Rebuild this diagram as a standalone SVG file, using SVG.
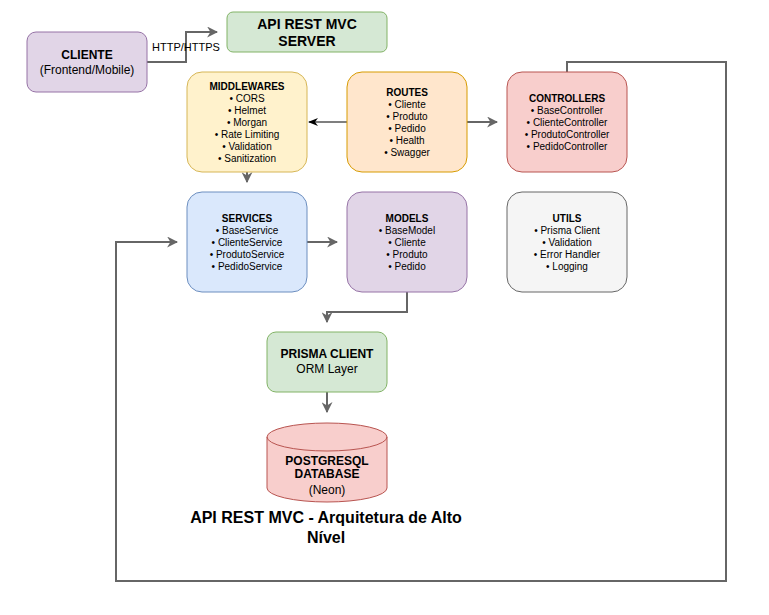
<svg xmlns="http://www.w3.org/2000/svg" width="769" height="615" viewBox="0 0 769 615">
<defs>
<marker id="ag" viewBox="0 0 10 10" refX="9" refY="5" markerWidth="6" markerHeight="6" orient="auto" markerUnits="userSpaceOnUse">
<path d="M0,0 L10,5 L0,10 L3,5 z" fill="#666666"/>
</marker>
<marker id="ab" viewBox="0 0 10 10" refX="9" refY="5" markerWidth="10" markerHeight="10" orient="auto" markerUnits="userSpaceOnUse">
<path d="M0,1 L10,5 L0,9 L3,5 z" fill="#000000"/>
</marker>
<marker id="ag2" viewBox="0 0 10 10" refX="9" refY="5" markerWidth="11" markerHeight="11" orient="auto" markerUnits="userSpaceOnUse">
<path d="M0,0 L10,5 L0,10 L3,5 z" fill="#666666"/>
</marker>
</defs>
<style>
text{font-family:"Liberation Sans",Arial,sans-serif;text-anchor:middle;fill:#000}
.t{font-size:10px;font-weight:bold}
.i{font-size:10px}
.b12{font-size:12px;font-weight:bold}
.r12{font-size:12px}
.c{fill:none;stroke:#666666;stroke-width:2}
</style>
<g id="connectors">
<path class="c" d="M147,62 H186 V32 H217" marker-end="url(#ag2)"/>
<text x="186" y="51" style="font-size:11px">HTTP/HTTPS</text>
<path d="M347,122 H309" fill="none" stroke="#000" stroke-width="1.2" marker-end="url(#ab)"/>
<path class="c" d="M467,122 H497" marker-end="url(#ag2)"/>
<path class="c" d="M247,172 V182" marker-end="url(#ag2)"/>
<path class="c" d="M307,242 H337" marker-end="url(#ag2)"/>
<path class="c" d="M407,292 V312 H327 V322" marker-end="url(#ag2)"/>
<path class="c" d="M327,392 V412" marker-end="url(#ag2)"/>
<path class="c" d="M567,72 V62 H726 V581 H116 V242 H177" marker-end="url(#ag2)"/>
</g>
<g id="cliente">
<rect x="27" y="32" width="120" height="60" rx="9" fill="#e1d5e7" stroke="#9673a6"/>
<text class="b12" x="87" y="59">CLIENTE</text>
<text class="r12" x="87" y="74">(Frontend/Mobile)</text>
</g>
<g id="server">
<rect x="227" y="12" width="160" height="40" rx="6" fill="#d5e8d4" stroke="#82b366"/>
<text x="307" y="29" style="font-size:14px;font-weight:bold">API REST MVC</text>
<text x="307" y="46" style="font-size:14px;font-weight:bold">SERVER</text>
</g>
<g id="middlewares">
<rect x="187" y="72" width="120" height="100" rx="15" fill="#fff2cc" stroke="#d6b656"/>
<text class="t" x="247" y="90">MIDDLEWARES</text>
<text class="i" x="247" y="102">• CORS</text>
<text class="i" x="247" y="114">• Helmet</text>
<text class="i" x="247" y="126">• Morgan</text>
<text class="i" x="247" y="138">• Rate Limiting</text>
<text class="i" x="247" y="150">• Validation</text>
<text class="i" x="247" y="162">• Sanitization</text>
</g>
<g id="routes">
<rect x="347" y="72" width="120" height="100" rx="15" fill="#ffe6cc" stroke="#d79b00"/>
<text class="t" x="407" y="96">ROUTES</text>
<text class="i" x="407" y="108">• Cliente</text>
<text class="i" x="407" y="120">• Produto</text>
<text class="i" x="407" y="132">• Pedido</text>
<text class="i" x="407" y="144">• Health</text>
<text class="i" x="407" y="156">• Swagger</text>
</g>
<g id="controllers">
<rect x="507" y="72" width="120" height="100" rx="15" fill="#f8cecc" stroke="#b85450"/>
<text class="t" x="567" y="102">CONTROLLERS</text>
<text class="i" x="567" y="114">• BaseController</text>
<text class="i" x="567" y="126">• ClienteController</text>
<text class="i" x="567" y="138">• ProdutoController</text>
<text class="i" x="567" y="150">• PedidoController</text>
</g>
<g id="services">
<rect x="187" y="192" width="120" height="100" rx="15" fill="#dae8fc" stroke="#6c8ebf"/>
<text class="t" x="247" y="222">SERVICES</text>
<text class="i" x="247" y="234">• BaseService</text>
<text class="i" x="247" y="246">• ClienteService</text>
<text class="i" x="247" y="258">• ProdutoService</text>
<text class="i" x="247" y="270">• PedidoService</text>
</g>
<g id="models">
<rect x="347" y="192" width="120" height="100" rx="15" fill="#e1d5e7" stroke="#9673a6"/>
<text class="t" x="407" y="222">MODELS</text>
<text class="i" x="407" y="234">• BaseModel</text>
<text class="i" x="407" y="246">• Cliente</text>
<text class="i" x="407" y="258">• Produto</text>
<text class="i" x="407" y="270">• Pedido</text>
</g>
<g id="utils">
<rect x="507" y="192" width="120" height="100" rx="15" fill="#f5f5f5" stroke="#666666"/>
<text class="t" x="567" y="222">UTILS</text>
<text class="i" x="567" y="234">• Prisma Client</text>
<text class="i" x="567" y="246">• Validation</text>
<text class="i" x="567" y="258">• Error Handler</text>
<text class="i" x="567" y="270">• Logging</text>
</g>
<g id="prisma">
<rect x="267" y="332" width="120" height="60" rx="9" fill="#d5e8d4" stroke="#82b366"/>
<text class="b12" x="327" y="358">PRISMA CLIENT</text>
<text class="r12" x="327" y="373">ORM Layer</text>
</g>
<g id="database">
<path d="M267,437 A60,14 0 0 1 387,437 V488 A60,14 0 0 1 267,488 Z" fill="#f8cecc" stroke="#b85450"/>
<path d="M267,437 A60,14 0 0 0 387,437" fill="none" stroke="#b85450"/>
<text class="b12" x="327" y="465">POSTGRESQL</text>
<text class="b12" x="327" y="478">DATABASE</text>
<text class="r12" x="327" y="494">(Neon)</text>
</g>
<g id="title">
<text x="326" y="523" style="font-size:16px;font-weight:bold">API REST MVC - Arquitetura de Alto</text>
<text x="326" y="543" style="font-size:16px;font-weight:bold">Nível</text>
</g>
</svg>
